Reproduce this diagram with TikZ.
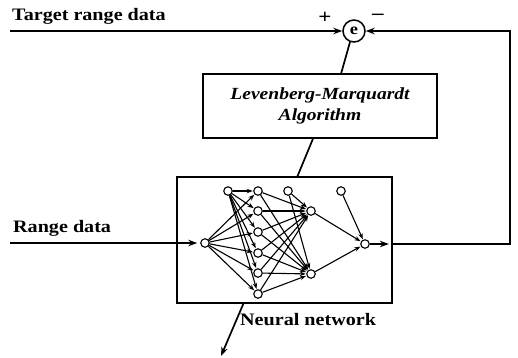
\documentclass[tikz,border=0pt]{standalone}
\usepackage{fontspec}
\setmainfont{Liberation Serif}[FakeStretch=1.15]
\usetikzlibrary{calc}
\usetikzlibrary{positioning}
\usetikzlibrary{arrows.meta}
\tikzset{
	>={Stealth[length=9pt,width=6.5pt]},
	blok/.style={
		rectangle, 
		draw=black, line width=1.7pt,
		inner sep=0pt, 
		text centered},
	summe/.style={
		circle, 
		draw=black, line width=1.5pt,
		minimum size=22pt, 
		inner sep=0pt, 
		font=\fontsize{16}{16}\selectfont\bfseries},
	neuron/.style={circle, draw=black, line width=1.1pt, fill=white, minimum size=8.5pt, inner sep=0pt},
	line/.style={draw, line width=1.7pt},
	verb/.style={-{Stealth[length=6pt,width=4.5pt]}, line width=1.1pt, shorten >=0.5pt},
	etikett/.style={font=\fontsize{17.5}{17.5}\selectfont\bfseries, inner sep=0pt},
	zeichen/.style={font=\fontsize{20}{20}\selectfont\bfseries, inner sep=0pt},
}

\begin{document}
\begin{tikzpicture}
	 		[x=1pt, y=-1pt]
	 		\useasboundingbox (0,0) rectangle (518,357);
	 		% blocks
	 		\node[summe] (e) at (354,31) {e};
	 		\node[blok, minimum width=234pt, minimum height=64pt, align=center,
	 			font=\fontsize{17}{21}\selectfont\bfseries\itshape] (lm) at (320,106) {Levenberg-Marquardt\\Algorithm};
	 		\node[blok, minimum width=215pt, minimum height=126pt] (nn) at (284.5,240) {};
	 		\node[etikett, anchor=base west] (ziel) at (12,20) {Target range data};
	 		\node[etikett, anchor=base west] (daten) at (13,232) {Range data};
	 		\node[etikett, anchor=base west] (netz) at (240,325) {Neural network};
	 		\node[zeichen] (plus) at (325,18) {\textbf{+}};
	 		\node[zeichen] (minus) at (378,17) {\textbf{–}};
	 		\coordinate (zielstart) at (10,31);
	 		\coordinate (datenstart) at (10,243);
	 		\coordinate (ecke) at (510,244);
	 		\coordinate (spitze) at (221,356);
	 		
	 		% neurons
	 		\node[neuron] (ein) at (205,243) {};
	 		\node[neuron] (b1) at (228,191) {};
	 		\node[neuron] (b2) at (288,191) {};
	 		\node[neuron] (b3) at (341,191) {};
	 		\foreach \y [count=\i] in {191,211,232,253,273,294}
	 			\node[neuron] (h\i) at (258,\y) {};
	 		\node[neuron] (v1) at (311,211) {};
	 		\node[neuron] (v2) at (311,274) {};
	 		\node[neuron] (aus) at (365,244) {};
	 		
	 		% weights
	 		\foreach \i in {1,...,6} {
	 			\draw[verb] (ein) -- (h\i);
	 			\draw[verb] (b1) -- (h\i);
	 			\draw[verb] (h\i) -- (v1);
	 			\draw[verb] (h\i) -- (v2);
	 		}
	 		\draw[verb] (b2) -- (v1);
	 		\draw[verb] (b2) -- (v2);
	 		\draw[verb] (v1) -- (aus);
	 		\draw[verb] (v2) -- (aus);
	 		\draw[verb] (b3) -- (aus);
	 		
	 		% signals
	 		\draw[line, ->] (zielstart) -- (e);
	 		\draw[line, ->, shorten >=3pt] (datenstart) -- (ein);
	 		\draw[line, ->, shorten >=4pt] (aus) -- (aus -| nn.east);
	 		\draw[line, ->] (aus -| nn.east) -- (ecke) |- (e);
	 		\draw[line] (e.250) -- ($(lm.north west)!0.59!(lm.north east)$);
	 		\draw[line] ($(lm.south west)!0.47!(lm.south east)$) -- ($(nn.north west)!0.56!(nn.north east)$);
	 		\draw[line, ->] ($(nn.south west)!0.31!(nn.south east)$) -- (spitze);
\end{tikzpicture}
\end{document}
